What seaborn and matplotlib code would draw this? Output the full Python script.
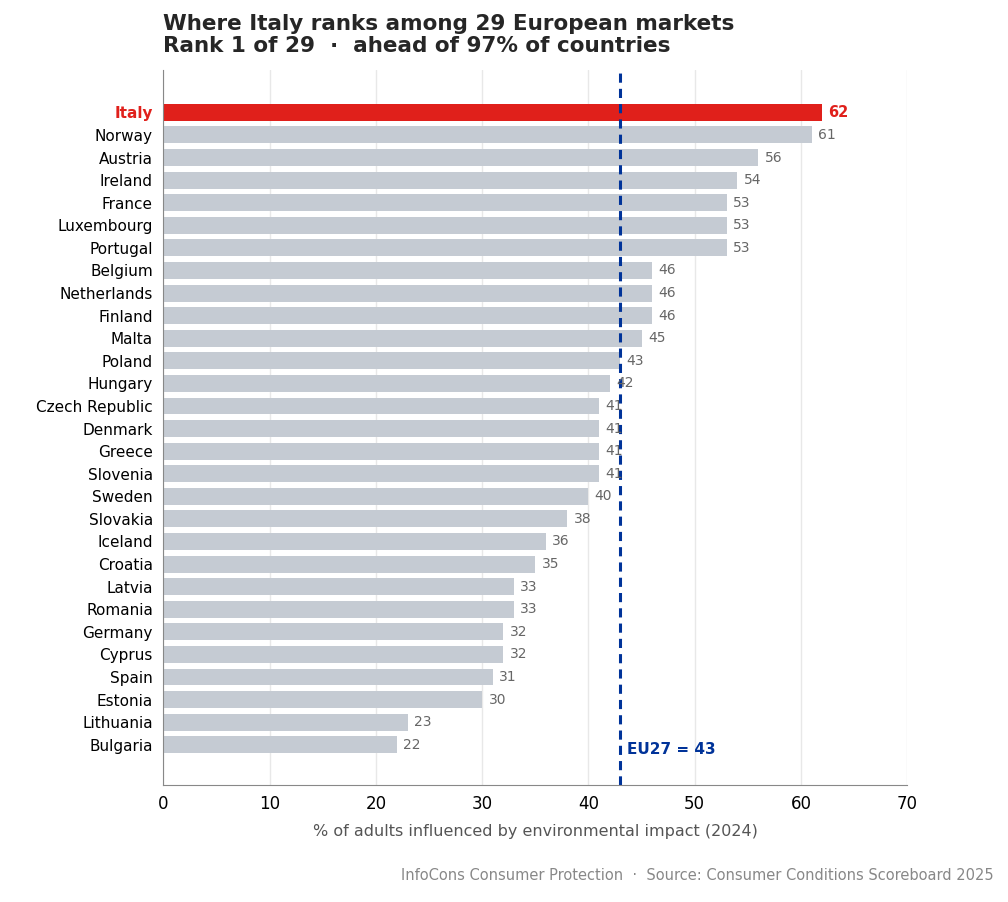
import matplotlib
matplotlib.use("Agg")
import matplotlib.pyplot as plt
import seaborn as sns
import pandas as pd

countries = ["Italy", "Norway", "Austria", "Ireland", "France", "Luxembourg", "Portugal",
             "Belgium", "Netherlands", "Finland", "Malta", "Poland", "Hungary",
             "Czech Republic", "Denmark", "Greece", "Slovenia", "Sweden", "Slovakia",
             "Iceland", "Croatia", "Latvia", "Romania", "Germany", "Cyprus", "Spain",
             "Estonia", "Lithuania", "Bulgaria"]
values = [62, 61, 56, 54, 53, 53, 53, 46, 46, 46, 45, 43, 42, 41, 41, 41, 41, 40, 38,
          36, 35, 33, 33, 32, 32, 31, 30, 23, 22]
eu_avg = 43
highlight = "Italy"

df = pd.DataFrame({"country": countries, "value": values})
palette = {c: ("#e0201b" if c == highlight else "#c5cbd3") for c in countries}

sns.set_style("white")
fig = plt.figure(figsize=(10.08, 9.02), dpi=100)
ax = fig.add_axes([0.162, 0.13, 0.738, 0.792])
sns.barplot(data=df, x="value", y="country", hue="country", palette=palette,
            legend=False, ax=ax, width=0.75, saturation=1, linewidth=0)

ax.set_xlim(0, 70)
ax.set_ylim(29.77, -1.86)
ax.xaxis.grid(True, color="#e8e8e8", linewidth=1)
ax.set_axisbelow(True)
for s in ["top", "right"]:
    ax.spines[s].set_visible(False)
for s in ["left", "bottom"]:
    ax.spines[s].set_color("#888888")
ax.tick_params(axis="x", labelsize=12, length=4, color="#888888", labelcolor="black")
ax.tick_params(axis="y", labelsize=11, length=4, color="#333333", labelcolor="black")
ax.set_ylabel("")
ax.set_xlabel("% of adults influenced by environmental impact (2024)", fontsize=11.5,
              color="#555555", labelpad=8)

for i, (c, v) in enumerate(zip(countries, values)):
    if c == highlight:
        ax.text(v + 0.6, i, str(v), va="center", fontsize=10.5, color="#e0201b", fontweight="bold")
    else:
        ax.text(v + 0.6, i, str(v), va="center", fontsize=10, color="#666666")
for lbl in ax.get_yticklabels():
    if lbl.get_text() == highlight:
        lbl.set_color("#e0201b")
        lbl.set_fontweight("bold")

ax.axvline(eu_avg, color="#003399", linestyle="--", linewidth=2.2, dashes=(3, 2))
ax.text(eu_avg + 0.6, 28.2, f"EU27 = {eu_avg}", color="#003399",
        fontsize=11, fontweight="bold", va="center")

fig.text(0.162, 0.938, "Where Italy ranks among 29 European markets\n"
         "Rank 1 of 29  ·  ahead of 97% of countries",
         fontsize=15.5, fontweight="bold", color="#262626", ha="left", va="bottom",
         linespacing=1.1)
fig.text(0.986, 0.024, "InfoCons Consumer Protection  ·  Source: Consumer Conditions Scoreboard 2025",
         fontsize=10.5, color="#888888", ha="right")

fig.savefig("out.png", dpi=100)
